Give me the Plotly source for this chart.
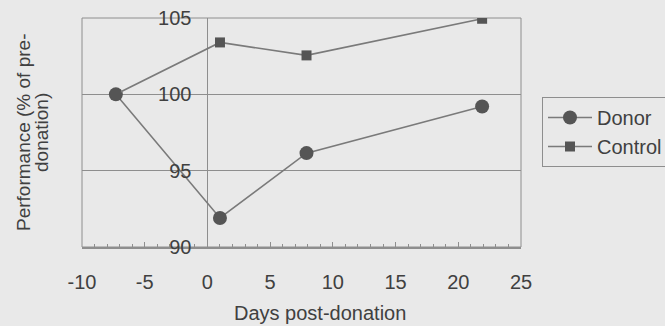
import plotly.graph_objects as go

days = [-7.3, 1.0, 7.9, 21.9]
donor = [100.0, 91.9, 96.15, 99.2]
control = [100.0, 103.4, 102.55, 104.95]
x_ticks = [-10, -5, 0, 5, 10, 15, 20, 25]
y_ticks = [90, 95, 100, 105]

W, H = 665, 326
ML, MR, MT, MB = 82, 144, 18, 79
PW = W - ML - MR
PH = H - MT - MB

BG = "#e9e9e9"
GRID = "#8e8e8e"
MARK = "#555555"
TXT = "#404040"
FONT = "Liberation Sans, Arial, sans-serif"

fig = go.Figure()
fig.add_trace(go.Scatter(x=days, y=donor, name="Donor", mode="lines+markers",
                         line=dict(color="#7a7a7a", width=1.6),
                         marker=dict(symbol="circle", size=14, color=MARK)))
fig.add_trace(go.Scatter(x=days, y=control, name="Control", mode="lines+markers",
                         line=dict(color="#7a7a7a", width=1.6),
                         marker=dict(symbol="square", size=10, color=MARK)))

xr = [-10, 25]
pos0 = (0 - xr[0]) / (xr[1] - xr[0])


def px_x(p):
    return (p - ML) / PW


def px_y(p):
    return (MT + PH - p) / PH


fig.update_layout(
    width=W, height=H,
    margin=dict(l=ML, r=MR, t=MT, b=MB, autoexpand=False),
    paper_bgcolor=BG, plot_bgcolor=BG,
    font=dict(family=FONT, size=20, color=TXT),
    showlegend=True,
    legend=dict(x=px_x(542), y=px_y(97), xanchor="left", yanchor="top",
                bordercolor=GRID, borderwidth=1, bgcolor=BG,
                font=dict(size=20, color=TXT), itemwidth=44,
                tracegroupgap=0),
    xaxis=dict(range=xr, tickvals=x_ticks, ticktext=[str(v) for v in x_ticks],
               showgrid=False, zeroline=True, zerolinecolor=GRID, zerolinewidth=1,
               showline=True, linecolor=GRID, linewidth=1.5, mirror=False,
               ticks="inside", ticklen=5, tickcolor=GRID,
               minor=dict(dtick=1, ticks="inside", ticklen=3, tickcolor=GRID),
               ticklabelstandoff=16, tickfont=dict(size=20, color=TXT),
               automargin=False, fixedrange=True),
    yaxis=dict(range=[90, 105], tickvals=y_ticks, anchor="free", position=pos0,
               showgrid=True, gridcolor=GRID, gridwidth=1, zeroline=False,
               showline=False, ticks="", ticklabelstandoff=16,
               tickfont=dict(size=20, color=TXT), automargin=False, fixedrange=True),
    shapes=[dict(type="rect", xref="paper", yref="paper", x0=0, x1=1, y0=0, y1=1,
                 line=dict(color=GRID, width=1), layer="below")],
    annotations=[
        dict(text="Performance (% of pre-", xref="paper", yref="paper",
             x=px_x(23), y=px_y(133), xanchor="center", yanchor="middle",
             textangle=-90, showarrow=False, font=dict(size=19, color=TXT)),
        dict(text="donation)", xref="paper", yref="paper",
             x=px_x(41), y=px_y(133), xanchor="center", yanchor="middle",
             textangle=-90, showarrow=False, font=dict(size=19, color=TXT)),
        dict(text="Days post-donation", xref="paper", yref="paper",
             x=px_x(320), y=px_y(313), xanchor="center", yanchor="middle",
             showarrow=False, font=dict(size=20, color=TXT)),
    ],
)

fig.write_html("out.html", config={"displayModeBar": False},
               post_script="document.body.style.margin='0';")
